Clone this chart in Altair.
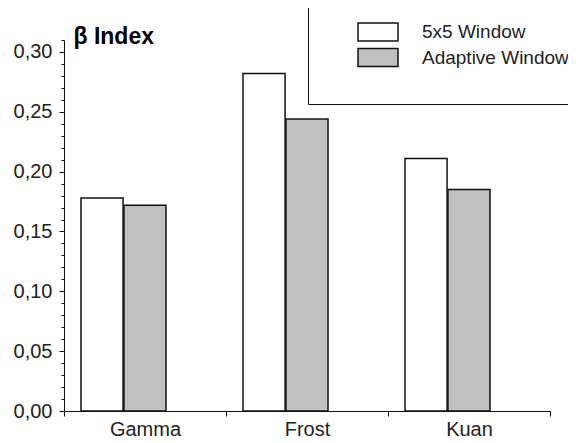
import altair as alt
import pandas as pd

filters = ["Gamma", "Frost", "Kuan"]
series = ["5x5 Window", "Adaptive Window"]
window_5x5 = [0.178, 0.282, 0.211]
adaptive_window = [0.172, 0.244, 0.185]
y_ticks = [round(i * 0.01, 2) for i in range(0, 32)]

rows = []
for f, a, b in zip(filters, window_5x5, adaptive_window):
    rows.append({"filter": f, "series": series[0], "value": a})
    rows.append({"filter": f, "series": series[1], "value": b})
df = pd.DataFrame(rows)

FONT = "Liberation Sans"
major_test = "round(datum.value*100) % 5 == 0"

chart = alt.Chart(df).mark_bar(stroke="#111111", strokeWidth=1.5).encode(
    x=alt.X(
        "filter:N",
        sort=filters,
        scale=alt.Scale(paddingInner=0, paddingOuter=0),
        axis=alt.Axis(
            title=None, labelAngle=0, tickBand="extent", tickSize=5,
            labelFont=FONT, labelFontSize=20, labelColor="#222222",
            labelPadding=3, domainColor="#111111", tickColor="#111111",
            domainWidth=1, tickWidth=1,
        ),
    ),
    xOffset=alt.XOffset(
        "series:N", sort=series,
        scale=alt.Scale(range=[17, 102], paddingInner=0.02),
    ),
    y=alt.Y(
        "value:Q",
        scale=alt.Scale(domain=[0, 0.31], nice=False, zero=True),
        axis=alt.Axis(
            title="β Index", titleAngle=0, titleAlign="left",
            titleBaseline="alphabetic", titleX=9, titleY=3,
            titleFont=FONT, titleFontSize=23, titleFontWeight="bold",
            titleColor="#000000",
            values=y_ticks, grid=False,
            labelExpr=f"{major_test} ? replace(format(datum.value, '.2f'), '.', ',') : ''",
            tickSize={"condition": {"test": major_test, "value": 5}, "value": 3},
            labelFont=FONT, labelFontSize=20, labelColor="#222222",
            labelPadding=7, domainColor="#111111", tickColor="#111111",
            domainWidth=1, tickWidth=1,
        ),
    ),
    color=alt.Color(
        "series:N", sort=series,
        scale=alt.Scale(domain=series, range=["#ffffff", "#c0c0c0"]),
        legend=alt.Legend(
            orient="none", legendX=244, legendY=-33,
            title=" ", titleOrient="bottom", titleFontSize=12, titlePadding=8,
            strokeColor="#111111", fillColor="#ffffff", padding=15,
            symbolType="M-2.222,-1H2.222V1H-2.222Z", symbolSize=324,
            symbolStrokeColor="#111111", symbolStrokeWidth=1.5, symbolOpacity=1,
            symbolOffset=45, labelOffset=34, rowPadding=1.5,
            labelFont=FONT, labelFontSize=19, labelColor="#222222",
        ),
    ),
).properties(
    width=486,
    height=371,
    autosize="none",
    padding={"left": 56, "top": 32, "right": 18, "bottom": 30},
).configure_view(stroke=None)

chart.save("out.html", embed_options={"renderer": "svg", "actions": False})
